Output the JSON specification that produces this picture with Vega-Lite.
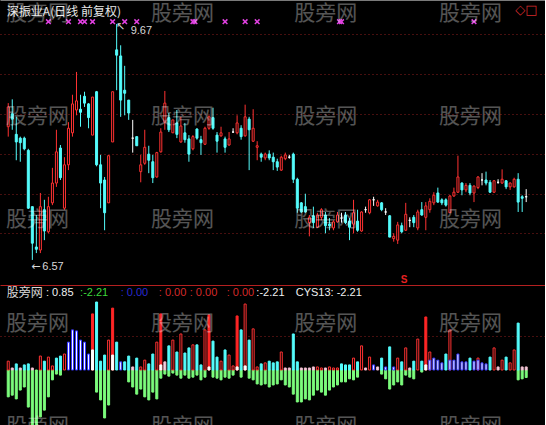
{
  "$schema": "https://vega.github.io/schema/vega-lite/v6.json",
  "background": "#000000",
  "padding": 0,
  "spacing": 0,
  "config": {
    "view": {"stroke": null},
    "axis": {"labels": false, "ticks": false, "grid": false, "domainColor": "#b42020", "minExtent": 0, "maxExtent": 0, "labelPadding": 0, "titlePadding": 0}
  },
  "datasets": {
    "k": [
      {"i":0,"o":8.32,"h":8.63,"l":8.19,"c":8.58},{"i":1,"o":8.49,"h":8.68,"l":8.28,"c":8.42},{"i":2,"o":8.22,"h":8.45,"l":7.88,"c":8.12},{"i":3,"o":8.17,"h":8.19,"l":7.86,"c":8.11},{"i":4,"o":8.17,"h":8.19,"l":8.01,"c":8.03},
      {"i":5,"o":8.01,"h":8.03,"l":7.24,"c":7.25},{"i":6,"o":7.27,"h":7.27,"l":6.57,"c":6.79},{"i":7,"o":6.74,"h":7.16,"l":6.66,"c":6.71},{"i":8,"o":6.70,"h":7.45,"l":6.66,"c":7.27},{"i":9,"o":7.23,"h":7.36,"l":6.83,"c":6.95},
      {"i":10,"o":6.94,"h":7.40,"l":6.92,"c":7.27},{"i":11,"o":7.32,"h":7.78,"l":7.29,"c":7.58},{"i":12,"o":7.58,"h":8.28,"l":7.53,"c":7.99},{"i":13,"o":8.04,"h":8.08,"l":7.62,"c":7.65},{"i":14,"o":7.25,"h":7.92,"l":7.23,"c":7.82},
      {"i":15,"o":7.82,"h":8.38,"l":7.75,"c":8.30},{"i":16,"o":8.24,"h":8.74,"l":8.19,"c":8.62},{"i":17,"o":8.54,"h":9.04,"l":8.47,"c":8.66},{"i":18,"o":8.55,"h":8.74,"l":8.32,"c":8.51},{"i":19,"o":8.72,"h":8.78,"l":8.58,"c":8.63},
      {"i":20,"o":8.62,"h":8.63,"l":8.30,"c":8.44},{"i":21,"o":8.21,"h":8.71,"l":8.21,"c":8.71},{"i":22,"o":8.78,"h":8.79,"l":7.80,"c":7.82},{"i":23,"o":7.82,"h":7.95,"l":7.25,"c":7.58},{"i":24,"o":7.62,"h":7.66,"l":6.96,"c":7.19},
      {"i":25,"o":7.32,"h":7.94,"l":7.32,"c":7.94},{"i":26,"o":8.12,"h":8.78,"l":8.12,"c":8.78},{"i":27,"o":9.33,"h":9.67,"l":8.80,"c":9.26},{"i":28,"o":9.25,"h":9.39,"l":8.45,"c":8.67},{"i":29,"o":8.80,"h":9.12,"l":8.47,"c":8.76},
      {"i":30,"o":8.67,"h":8.67,"l":8.41,"c":8.50},{"i":31,"o":8.17,"h":8.41,"l":7.98,"c":8.17},{"i":32,"o":8.19,"h":8.19,"l":8.07,"c":8.07},{"i":33,"o":7.73,"h":7.95,"l":7.59,"c":7.82},{"i":34,"o":7.84,"h":8.28,"l":7.82,"c":8.05},
      {"i":35,"o":7.96,"h":8.07,"l":7.71,"c":7.88},{"i":36,"o":7.86,"h":7.95,"l":7.58,"c":7.65},{"i":37,"o":7.66,"h":7.99,"l":7.65,"c":7.98},{"i":38,"o":7.99,"h":8.30,"l":7.98,"c":8.25},{"i":39,"o":8.38,"h":8.79,"l":8.28,"c":8.63},
      {"i":40,"o":8.44,"h":8.50,"l":8.25,"c":8.28},{"i":41,"o":8.24,"h":8.41,"l":8.24,"c":8.41},{"i":42,"o":8.37,"h":8.54,"l":8.17,"c":8.22},{"i":43,"o":8.12,"h":8.45,"l":8.11,"c":8.33},{"i":44,"o":8.24,"h":8.37,"l":8.11,"c":8.15},
      {"i":45,"o":8.16,"h":8.21,"l":7.86,"c":7.96},{"i":46,"o":8.03,"h":8.21,"l":8.01,"c":8.19},{"i":47,"o":8.29,"h":8.30,"l":8.15,"c":8.17},{"i":48,"o":8.15,"h":8.20,"l":7.95,"c":8.11},{"i":49,"o":8.09,"h":8.32,"l":8.08,"c":8.30},
      {"i":50,"o":8.30,"h":8.47,"l":8.28,"c":8.45},{"i":51,"o":8.44,"h":8.57,"l":8.28,"c":8.30},{"i":52,"o":8.21,"h":8.25,"l":7.98,"c":8.13},{"i":53,"o":8.20,"h":8.32,"l":8.19,"c":8.24},{"i":54,"o":8.16,"h":8.19,"l":7.98,"c":8.05},
      {"i":55,"o":8.08,"h":8.25,"l":8.07,"c":8.16},{"i":56,"o":8.25,"h":8.30,"l":8.24,"c":8.25},{"i":57,"o":8.24,"h":8.47,"l":8.22,"c":8.37},{"i":58,"o":8.30,"h":8.34,"l":8.15,"c":8.19},{"i":59,"o":8.20,"h":8.61,"l":8.19,"c":8.45},
      {"i":60,"o":8.42,"h":8.45,"l":7.75,"c":8.28},{"i":61,"o":8.13,"h":8.55,"l":8.12,"c":8.30},{"i":62,"o":8.05,"h":8.13,"l":7.88,"c":8.07},{"i":63,"o":7.96,"h":7.98,"l":7.86,"c":7.92},{"i":64,"o":7.91,"h":7.98,"l":7.88,"c":7.96},
      {"i":65,"o":7.96,"h":8.01,"l":7.88,"c":7.91},{"i":66,"o":7.92,"h":7.98,"l":7.75,"c":7.86},{"i":67,"o":7.86,"h":7.90,"l":7.74,"c":7.79},{"i":68,"o":7.75,"h":7.94,"l":7.74,"c":7.92},{"i":69,"o":7.90,"h":7.98,"l":7.88,"c":7.95},
      {"i":70,"o":7.92,"h":7.95,"l":7.90,"c":7.92},{"i":71,"o":7.96,"h":7.98,"l":7.58,"c":7.63},{"i":72,"o":7.63,"h":7.65,"l":7.19,"c":7.25},{"i":73,"o":7.32,"h":7.33,"l":7.19,"c":7.20},{"i":74,"o":7.27,"h":7.44,"l":7.19,"c":7.20},
      {"i":75,"o":7.06,"h":7.16,"l":6.88,"c":7.13},{"i":76,"o":7.15,"h":7.27,"l":6.99,"c":7.06},{"i":77,"o":7.00,"h":7.19,"l":6.99,"c":7.16},{"i":78,"o":7.13,"h":7.25,"l":7.09,"c":7.23},{"i":79,"o":7.16,"h":7.20,"l":6.92,"c":7.02},
      {"i":80,"o":7.04,"h":7.12,"l":6.96,"c":7.02},{"i":81,"o":6.99,"h":7.09,"l":6.96,"c":7.07},{"i":82,"o":7.07,"h":7.20,"l":7.06,"c":7.16},{"i":83,"o":7.12,"h":7.19,"l":7.06,"c":7.12},{"i":84,"o":7.16,"h":7.20,"l":7.04,"c":7.06},
      {"i":85,"o":7.08,"h":7.12,"l":6.83,"c":7.00},{"i":86,"o":7.04,"h":7.36,"l":6.92,"c":7.19},{"i":87,"o":7.08,"h":7.23,"l":6.94,"c":6.96},{"i":88,"o":6.95,"h":7.21,"l":6.94,"c":7.20},{"i":89,"o":7.23,"h":7.27,"l":7.19,"c":7.23},
      {"i":90,"o":7.19,"h":7.37,"l":7.17,"c":7.36},{"i":91,"o":7.36,"h":7.40,"l":7.28,"c":7.36},{"i":92,"o":7.28,"h":7.36,"l":7.27,"c":7.33},{"i":93,"o":7.32,"h":7.33,"l":7.21,"c":7.23},{"i":94,"o":7.20,"h":7.25,"l":7.16,"c":7.20},
      {"i":95,"o":7.15,"h":7.16,"l":6.87,"c":6.87},{"i":96,"o":6.85,"h":6.92,"l":6.81,"c":6.88},{"i":97,"o":6.83,"h":7.07,"l":6.78,"c":7.03},{"i":98,"o":7.02,"h":7.06,"l":6.92,"c":6.94},{"i":99,"o":6.96,"h":7.32,"l":6.95,"c":7.17},
      {"i":100,"o":7.09,"h":7.13,"l":7.00,"c":7.09},{"i":101,"o":7.13,"h":7.16,"l":7.00,"c":7.06},{"i":102,"o":6.99,"h":7.23,"l":6.96,"c":7.20},{"i":103,"o":7.23,"h":7.33,"l":7.15,"c":7.16},{"i":104,"o":7.13,"h":7.33,"l":6.96,"c":7.28},
      {"i":105,"o":7.23,"h":7.38,"l":7.19,"c":7.34},{"i":106,"o":7.32,"h":7.46,"l":7.29,"c":7.42},{"i":107,"o":7.45,"h":7.52,"l":7.32,"c":7.33},{"i":108,"o":7.36,"h":7.38,"l":7.29,"c":7.32},{"i":109,"o":7.36,"h":7.38,"l":7.27,"c":7.29},
      {"i":110,"o":7.19,"h":7.42,"l":7.19,"c":7.41},{"i":111,"o":7.41,"h":7.52,"l":7.40,"c":7.46},{"i":112,"o":7.46,"h":7.94,"l":7.45,"c":7.66},{"i":113,"o":7.58,"h":7.59,"l":7.42,"c":7.49},{"i":114,"o":7.49,"h":7.58,"l":7.46,"c":7.55},
      {"i":115,"o":7.55,"h":7.58,"l":7.42,"c":7.45},{"i":116,"o":7.45,"h":7.55,"l":7.33,"c":7.54},{"i":117,"o":7.52,"h":7.67,"l":7.50,"c":7.66},{"i":118,"o":7.62,"h":7.71,"l":7.55,"c":7.62},{"i":119,"o":7.62,"h":7.73,"l":7.55,"c":7.58},
      {"i":120,"o":7.59,"h":7.62,"l":7.45,"c":7.46},{"i":121,"o":7.46,"h":7.62,"l":7.45,"c":7.61},{"i":122,"o":7.59,"h":7.63,"l":7.57,"c":7.59},{"i":123,"o":7.58,"h":7.76,"l":7.57,"c":7.63},{"i":124,"o":7.61,"h":7.62,"l":7.50,"c":7.53},
      {"i":125,"o":7.53,"h":7.59,"l":7.49,"c":7.58},{"i":126,"o":7.53,"h":7.65,"l":7.52,"c":7.63},{"i":127,"o":7.63,"h":7.71,"l":7.20,"c":7.33},{"i":128,"o":7.40,"h":7.42,"l":7.20,"c":7.38},{"i":129,"o":7.40,"h":7.50,"l":7.33,"c":7.40}
    ],
    "ind": [
      {"i":0,"v":-7.9,"k":"down"},{"i":0,"v":2.6,"k":"up"},
      {"i":1,"v":-7.4,"k":"down"},{"i":1,"v":0.6,"k":"flat"},
      {"i":2,"v":-8.5,"k":"down"},{"i":2,"v":1.8,"k":"rise"},
      {"i":3,"v":-5.9,"k":"down"},{"i":3,"v":0.6,"k":"flat"},
      {"i":4,"v":-5.0,"k":"down"},{"i":4,"v":1.5,"k":"rise"},
      {"i":5,"v":-10.9,"k":"down"},{"i":5,"v":1.8,"k":"rise"},
      {"i":6,"v":-17.6,"k":"down"},{"i":6,"v":0.6,"k":"flat"},
      {"i":7,"v":-16.5,"k":"down"},
      {"i":8,"v":-13.8,"k":"down"},{"i":8,"v":4.1,"k":"up"},
      {"i":9,"v":-11.8,"k":"down"},{"i":9,"v":2.6,"k":"rise"},
      {"i":10,"v":-7.9,"k":"down"},{"i":10,"v":3.8,"k":"up"},
      {"i":11,"v":-2.9,"k":"down"},{"i":11,"v":1.2,"k":"up"},
      {"i":12,"v":-1.2,"k":"down"},{"i":12,"v":3.5,"k":"rise"},
      {"i":13,"v":-1.5,"k":"down"},{"i":13,"v":4.1,"k":"rise"},
      {"i":14,"v":4.7,"k":"up"},
      {"i":15,"v":8.2,"k":"base"},
      {"i":16,"v":11.8,"k":"base"},
      {"i":17,"v":11.5,"k":"base"},
      {"i":18,"v":8.8,"k":"base"},
      {"i":19,"v":8.2,"k":"base"},
      {"i":20,"v":4.7,"k":"base"},
      {"i":21,"v":16.5,"k":"strong"},{"i":21,"v":5.9,"k":"core"},
      {"i":22,"v":-6.5,"k":"down"},{"i":22,"v":20.0,"k":"rise"},
      {"i":23,"v":-8.8,"k":"down"},{"i":23,"v":2.6,"k":"rise"},
      {"i":24,"v":-14.1,"k":"down"},{"i":24,"v":4.4,"k":"rise"},
      {"i":25,"v":-10.3,"k":"down"},{"i":25,"v":8.8,"k":"up"},
      {"i":26,"v":18.2,"k":"strong"},{"i":26,"v":4.4,"k":"core"},
      {"i":27,"v":8.2,"k":"rise"},
      {"i":28,"v":2.4,"k":"base"},
      {"i":29,"v":2.4,"k":"rise"},
      {"i":30,"v":-3.5,"k":"down"},{"i":30,"v":4.1,"k":"rise"},
      {"i":31,"v":-5.0,"k":"down"},{"i":31,"v":0.9,"k":"flat"},
      {"i":32,"v":-7.1,"k":"down"},{"i":32,"v":3.5,"k":"rise"},
      {"i":33,"v":-5.6,"k":"down"},{"i":33,"v":0.9,"k":"up"},
      {"i":34,"v":-7.9,"k":"down"},{"i":34,"v":2.9,"k":"up"},
      {"i":35,"v":-8.8,"k":"down"},{"i":35,"v":1.8,"k":"rise"},
      {"i":36,"v":-6.5,"k":"down"},{"i":36,"v":4.7,"k":"rise"},
      {"i":37,"v":-8.5,"k":"down"},{"i":37,"v":8.2,"k":"up"},
      {"i":38,"v":-2.4,"k":"down"},{"i":38,"v":16.5,"k":"strong"},{"i":38,"v":1.5,"k":"core"},
      {"i":39,"v":-1.2,"k":"down"},{"i":39,"v":2.4,"k":"flat"},
      {"i":40,"v":-1.8,"k":"down"},{"i":40,"v":7.1,"k":"rise"},
      {"i":41,"v":-0.9,"k":"down"},{"i":41,"v":8.8,"k":"up"},
      {"i":42,"v":-1.5,"k":"down"},{"i":42,"v":5.3,"k":"rise"},
      {"i":43,"v":-2.4,"k":"down"},{"i":43,"v":10.6,"k":"up"},
      {"i":44,"v":-1.5,"k":"down"},{"i":44,"v":5.0,"k":"rise"},
      {"i":45,"v":-2.4,"k":"down"},{"i":45,"v":6.5,"k":"rise"},
      {"i":46,"v":-2.1,"k":"down"},{"i":46,"v":7.4,"k":"up"},
      {"i":47,"v":-1.5,"k":"down"},{"i":47,"v":7.4,"k":"rise"},
      {"i":48,"v":-2.9,"k":"down"},{"i":48,"v":1.5,"k":"rise"},
      {"i":49,"v":-2.1,"k":"down"},{"i":49,"v":11.8,"k":"up"},
      {"i":50,"v":16.2,"k":"strong"},{"i":50,"v":0.9,"k":"core"},
      {"i":51,"v":-2.1,"k":"down"},{"i":51,"v":8.5,"k":"rise"},
      {"i":52,"v":-2.4,"k":"down"},{"i":52,"v":3.8,"k":"rise"},
      {"i":53,"v":-2.9,"k":"down"},{"i":53,"v":2.6,"k":"up"},
      {"i":54,"v":-2.1,"k":"down"},{"i":54,"v":5.9,"k":"rise"},
      {"i":55,"v":-2.4,"k":"down"},{"i":55,"v":4.4,"k":"up"},
      {"i":56,"v":-1.5,"k":"down"},{"i":56,"v":1.2,"k":"up"},
      {"i":57,"v":15.9,"k":"strong"},{"i":57,"v":0.9,"k":"core"},
      {"i":58,"v":-2.1,"k":"down"},{"i":58,"v":11.8,"k":"rise"},
      {"i":59,"v":19.4,"k":"up"},{"i":59,"v":1.2,"k":"core"},
      {"i":60,"v":-2.4,"k":"down"},{"i":60,"v":8.8,"k":"rise"},
      {"i":61,"v":-2.9,"k":"down"},{"i":61,"v":12.1,"k":"up"},
      {"i":62,"v":-4.1,"k":"down"},{"i":62,"v":0.9,"k":"up"},
      {"i":63,"v":-4.4,"k":"down"},{"i":63,"v":1.8,"k":"rise"},
      {"i":64,"v":-4.1,"k":"down"},{"i":64,"v":2.1,"k":"up"},
      {"i":65,"v":-5.0,"k":"down"},{"i":65,"v":2.6,"k":"rise"},
      {"i":66,"v":-4.4,"k":"down"},{"i":66,"v":2.1,"k":"rise"},
      {"i":67,"v":-4.1,"k":"down"},{"i":67,"v":2.4,"k":"rise"},
      {"i":68,"v":-2.9,"k":"down"},{"i":68,"v":5.3,"k":"up"},
      {"i":69,"v":-4.4,"k":"down"},{"i":69,"v":0.6,"k":"flat"},
      {"i":70,"v":-5.0,"k":"down"},{"i":70,"v":0.6,"k":"flat"},
      {"i":71,"v":-7.1,"k":"down"},{"i":71,"v":10.6,"k":"rise"},
      {"i":72,"v":-9.4,"k":"down"},{"i":72,"v":2.4,"k":"rise"},
      {"i":73,"v":-9.4,"k":"down"},{"i":73,"v":0.6,"k":"flat"},
      {"i":74,"v":-8.5,"k":"down"},{"i":74,"v":0.6,"k":"flat"},
      {"i":75,"v":-8.8,"k":"down"},{"i":75,"v":0.6,"k":"flat"},
      {"i":76,"v":-7.4,"k":"down"},{"i":76,"v":0.9,"k":"flat"},
      {"i":77,"v":-5.9,"k":"down"},{"i":77,"v":0.9,"k":"up"},
      {"i":78,"v":-6.5,"k":"down"},{"i":78,"v":0.6,"k":"up"},
      {"i":79,"v":-7.4,"k":"down"},{"i":79,"v":0.6,"k":"flat"},
      {"i":80,"v":-5.9,"k":"down"},{"i":80,"v":0.9,"k":"up"},
      {"i":81,"v":-5.0,"k":"down"},{"i":81,"v":0.6,"k":"up"},
      {"i":82,"v":-4.4,"k":"down"},{"i":82,"v":0.6,"k":"up"},
      {"i":83,"v":-3.5,"k":"down"},{"i":83,"v":1.8,"k":"rise"},
      {"i":84,"v":-3.5,"k":"down"},{"i":84,"v":1.5,"k":"rise"},
      {"i":85,"v":-2.6,"k":"down"},{"i":85,"v":1.5,"k":"rise"},
      {"i":86,"v":-2.9,"k":"down"},{"i":86,"v":3.5,"k":"up"},
      {"i":87,"v":-2.1,"k":"down"},{"i":87,"v":2.4,"k":"rise"},
      {"i":88,"v":7.1,"k":"up"},
      {"i":89,"v":0.6,"k":"flat"},
      {"i":90,"v":3.8,"k":"up"},
      {"i":91,"v":1.5,"k":"base"},
      {"i":92,"v":0.9,"k":"flat"},
      {"i":93,"v":-1.2,"k":"down"},{"i":93,"v":3.5,"k":"rise"},
      {"i":94,"v":-2.6,"k":"down"},{"i":94,"v":0.9,"k":"base"},
      {"i":95,"v":-5.6,"k":"down"},{"i":95,"v":6.8,"k":"rise"},
      {"i":96,"v":-4.4,"k":"down"},{"i":96,"v":0.9,"k":"base"},
      {"i":97,"v":-3.5,"k":"down"},{"i":97,"v":3.5,"k":"up"},
      {"i":98,"v":-4.4,"k":"down"},{"i":98,"v":2.4,"k":"rise"},
      {"i":99,"v":-1.5,"k":"down"},{"i":99,"v":6.5,"k":"up"},
      {"i":100,"v":-2.1,"k":"down"},{"i":100,"v":0.6,"k":"flat"},
      {"i":101,"v":-2.6,"k":"down"},{"i":101,"v":2.6,"k":"rise"},
      {"i":102,"v":9.1,"k":"up"},
      {"i":103,"v":-0.6,"k":"down"},{"i":103,"v":2.6,"k":"rise"},
      {"i":104,"v":15.6,"k":"strong"},{"i":104,"v":1.5,"k":"core"},
      {"i":105,"v":5.3,"k":"up"},{"i":105,"v":2.9,"k":"base"},
      {"i":106,"v":3.5,"k":"base"},
      {"i":107,"v":2.9,"k":"base"},
      {"i":108,"v":2.1,"k":"base"},
      {"i":109,"v":4.7,"k":"rise"},
      {"i":110,"v":11.8,"k":"up"},{"i":110,"v":2.9,"k":"base"},
      {"i":111,"v":2.9,"k":"base"},
      {"i":112,"v":4.7,"k":"base"},
      {"i":113,"v":2.4,"k":"base"},
      {"i":114,"v":2.4,"k":"base"},
      {"i":115,"v":3.5,"k":"rise"},
      {"i":116,"v":2.6,"k":"base"},
      {"i":117,"v":3.5,"k":"up"},{"i":117,"v":2.9,"k":"base"},
      {"i":118,"v":2.1,"k":"base"},
      {"i":119,"v":1.8,"k":"base"},
      {"i":120,"v":3.8,"k":"rise"},
      {"i":121,"v":6.5,"k":"up"},
      {"i":122,"v":0.9,"k":"flat"},
      {"i":123,"v":2.9,"k":"up"},
      {"i":124,"v":3.8,"k":"rise"},
      {"i":125,"v":2.1,"k":"up"},
      {"i":126,"v":5.9,"k":"up"},
      {"i":127,"v":-2.9,"k":"down"},{"i":127,"v":13.8,"k":"rise"},
      {"i":128,"v":-2.6,"k":"down"},{"i":128,"v":0.9,"k":"flat"},
      {"i":129,"v":-2.21,"k":"down"},{"i":129,"v":0.9,"k":"flat"}
    ],
    "sig": [
      {"i":10},{"i":15},{"i":18},{"i":19},{"i":21},{"i":26},{"i":29},{"i":32},
      {"i":46},{"i":46.5},{"i":54},{"i":59},{"i":62},{"i":82.5},{"i":83},{"i":116}
    ],
    "wmTop": [
      {"i":7.3,"p":9.80},{"i":43.4,"p":9.80},{"i":79.1,"p":9.80},{"i":115.1,"p":9.80},
      {"i":7.3,"p":8.45},{"i":43.4,"p":8.45},{"i":79.1,"p":8.45},{"i":115.1,"p":8.45},
      {"i":7.3,"p":7.09},{"i":43.4,"p":7.09},{"i":79.1,"p":7.09},{"i":115.1,"p":7.09}
    ],
    "wmBottom": [
      {"i":7.3,"v":13.5},{"i":43.4,"v":13.5},{"i":79.1,"v":13.5},{"i":115.1,"v":13.5},
      {"i":7.3,"v":-16.8},{"i":43.4,"v":-16.8},{"i":79.1,"v":-16.8},{"i":115.1,"v":-16.8}
    ]
  },
  "vconcat": [
    {
      "width": 545,
      "height": 283,
      "layer": [
        {
          "data": {"name": "k"},
          "mark": {"type": "rule", "strokeWidth": 1},
          "encoding": {
            "x": {"field": "i", "type": "quantitative", "title": null,
                  "scale": {"domain": [-0.807, 132.44], "nice": false, "zero": false},
                  "axis": {"orient": "top", "domainColor": "#7a7a7a"}},
            "y": {"field": "l", "type": "quantitative", "title": null,
                  "scale": {"domain": [6.267, 9.985], "nice": false, "zero": false},
                  "axis": {"orient": "right", "grid": true, "gridColor": "#8e1e1e", "gridDash": [1, 3],
                           "values": [9.538, 9.013, 8.487, 7.961, 7.442, 6.924]}},
            "y2": {"field": "h"},
            "color": {
              "condition": [
                {"test": "datum.c > datum.o", "value": "#ff3232"},
                {"test": "datum.c < datum.o", "value": "#54fcfc"}
              ],
              "value": "#ffffff"
            }
          }
        },
        {
          "data": {"name": "k"},
          "mark": {"type": "bar", "orient": "vertical", "size": 2, "strokeWidth": 1},
          "encoding": {
            "x": {"field": "i", "type": "quantitative", "title": null},
            "y": {"field": "o", "type": "quantitative", "title": null},
            "y2": {"field": "c"},
            "fill": {
              "condition": [
                {"test": "datum.c > datum.o", "value": "#000000"},
                {"test": "datum.c < datum.o", "value": "#54fcfc"}
              ],
              "value": "#ffffff"
            },
            "stroke": {
              "condition": [
                {"test": "datum.c > datum.o", "value": "#ff3232"},
                {"test": "datum.c < datum.o", "value": "#54fcfc"}
              ],
              "value": "#ffffff"
            }
          }
        },
        {
          "data": {"name": "sig"},
          "mark": {"type": "point", "shape": "M-1,-1L1,1M-1,1L1,-1", "size": 22, "filled": false,
                   "stroke": "#e040e0", "strokeWidth": 1.5, "opacity": 1},
          "encoding": {
            "x": {"field": "i", "type": "quantitative", "title": null},
            "y": {"datum": 9.70}
          }
        },
        {
          "data": {"values": [{"t": "深振业A(日线 前复权)", "i": -0.35, "p": 9.83}]},
          "mark": {"type": "text", "align": "left", "baseline": "middle", "font": "Noto Sans CJK SC", "fontSize": 12, "color": "#e8e8e8"},
          "encoding": {
            "x": {"field": "i", "type": "quantitative", "title": null},
            "y": {"field": "p", "type": "quantitative", "title": null},
            "text": {"field": "t"}
          }
        },
        {
          "data": {"values": [{"t": "◇□", "i": 126.3, "p": 9.855}]},
          "mark": {"type": "text", "align": "left", "baseline": "middle", "font": "DejaVu Sans", "fontSize": 13, "color": "#d42a2a"},
          "encoding": {
            "x": {"field": "i", "type": "quantitative", "title": null},
            "y": {"field": "p", "type": "quantitative", "title": null},
            "text": {"field": "t"}
          }
        },
        {
          "data": {"values": [{"t": "↖", "i": 27, "p": 9.67}]},
          "mark": {"type": "text", "align": "left", "baseline": "top", "dx": -1, "dy": -3, "font": "DejaVu Sans", "fontSize": 11, "color": "#d8d8d8"},
          "encoding": {
            "x": {"field": "i", "type": "quantitative", "title": null},
            "y": {"field": "p", "type": "quantitative", "title": null},
            "text": {"field": "t"}
          }
        },
        {
          "data": {"values": [{"t": "9.67", "i": 27, "p": 9.67}]},
          "mark": {"type": "text", "align": "left", "baseline": "top", "dx": 14, "dy": 1, "font": "Liberation Sans", "fontSize": 11, "color": "#d8d8d8"},
          "encoding": {
            "x": {"field": "i", "type": "quantitative", "title": null},
            "y": {"field": "p", "type": "quantitative", "title": null},
            "text": {"field": "t"}
          }
        },
        {
          "data": {"values": [{"t": "←", "i": 6, "p": 6.57}]},
          "mark": {"type": "text", "align": "left", "baseline": "middle", "dx": -1, "dy": 7, "font": "DejaVu Sans", "fontSize": 11, "color": "#d8d8d8"},
          "encoding": {
            "x": {"field": "i", "type": "quantitative", "title": null},
            "y": {"field": "p", "type": "quantitative", "title": null},
            "text": {"field": "t"}
          }
        },
        {
          "data": {"values": [{"t": "6.57", "i": 6, "p": 6.57}]},
          "mark": {"type": "text", "align": "left", "baseline": "middle", "dx": 10, "dy": 7, "font": "Liberation Sans", "fontSize": 11, "color": "#d8d8d8"},
          "encoding": {
            "x": {"field": "i", "type": "quantitative", "title": null},
            "y": {"field": "p", "type": "quantitative", "title": null},
            "text": {"field": "t"}
          }
        },
        {
          "data": {"values": [{"t": "S", "i": 98.6, "p": 6.31}]},
          "mark": {"type": "text", "align": "center", "baseline": "middle", "font": "Liberation Sans", "fontSize": 10, "fontWeight": "bold", "color": "#e82020"},
          "encoding": {
            "x": {"field": "i", "type": "quantitative", "title": null},
            "y": {"field": "p", "type": "quantitative", "title": null},
            "text": {"field": "t"}
          }
        },
        {
          "data": {"name": "wmTop"},
          "mark": {"type": "text", "text": "股旁网", "align": "center", "baseline": "middle", "font": "Noto Sans CJK SC", "fontSize": 21, "color": "#ffffff", "opacity": 0.33, "clip": true},
          "encoding": {
            "x": {"field": "i", "type": "quantitative", "title": null},
            "y": {"field": "p", "type": "quantitative", "title": null}
          }
        }
      ]
    },
    {
      "width": 545,
      "height": 142,
      "layer": [
        {
          "mark": {"type": "rule", "color": "#c8283c", "strokeWidth": 1},
          "encoding": {
            "x": {"datum": -0.807, "type": "quantitative", "title": null,
                  "scale": {"domain": [-0.807, 132.44], "nice": false, "zero": false},
                  "axis": {"orient": "top", "domainColor": "#b42020"}},
            "x2": {"datum": 132.44},
            "y": {"datum": 0, "type": "quantitative", "title": null,
                  "scale": {"domain": [-16.76, 25], "nice": false, "zero": false},
                  "axis": {"orient": "right", "grid": true, "gridColor": "#8e1e1e", "gridDash": [1, 3], "values": [10]}}
          }
        },
        {
          "data": {"name": "ind"},
          "mark": {"type": "bar", "orient": "vertical", "size": 2, "strokeWidth": 1, "clip": true},
          "encoding": {
            "x": {"field": "i", "type": "quantitative", "title": null},
            "y": {"field": "v", "type": "quantitative", "title": null},
            "y2": {"datum": 0},
            "fill": {"field": "k", "type": "nominal", "legend": null,
                     "scale": {"domain": ["down", "rise", "up", "strong", "flat", "base", "core"],
                               "range": ["#7cfc7c", "#54fcfc", "#000000", "#ff2626", "#f2dce6", "#ffffff", "#ffffff"]}},
            "stroke": {"field": "k", "type": "nominal", "legend": null,
                       "scale": {"domain": ["down", "rise", "up", "strong", "flat", "base", "core"],
                                 "range": ["#7cfc7c", "#54fcfc", "#ff3232", "#ff2626", "#f0b8cc", "#3434ff", "#ffffff"]}}
          }
        },
        {
          "data": {"values": [{"t": "股旁网", "i": -0.4, "v": 22.6}]},
          "mark": {"type": "text", "align": "left", "baseline": "middle", "font": "Noto Sans CJK SC", "fontSize": 12, "color": "#d8d8d8"},
          "encoding": {
            "x": {"field": "i", "type": "quantitative", "title": null},
            "y": {"field": "v", "type": "quantitative", "title": null},
            "text": {"field": "t"}
          }
        },
        {
          "data": {"values": [
            {"t": ": 0.85", "i": 9.4, "v": 22.6},
            {"t": ":-2.21", "i": 61.8, "v": 22.6},
            {"t": "CYS13: -2.21", "i": 71.6, "v": 22.6}
          ]},
          "mark": {"type": "text", "align": "left", "baseline": "middle", "font": "Liberation Sans", "fontSize": 11, "color": "#f0f0f0"},
          "encoding": {
            "x": {"field": "i", "type": "quantitative", "title": null},
            "y": {"field": "v", "type": "quantitative", "title": null},
            "text": {"field": "t"}
          }
        },
        {
          "data": {"values": [{"t": ":-2.21", "i": 17.9, "v": 22.6}]},
          "mark": {"type": "text", "align": "left", "baseline": "middle", "font": "Liberation Sans", "fontSize": 11, "color": "#3cd83c"},
          "encoding": {
            "x": {"field": "i", "type": "quantitative", "title": null},
            "y": {"field": "v", "type": "quantitative", "title": null},
            "text": {"field": "t"}
          }
        },
        {
          "data": {"values": [{"t": ": 0.00", "i": 28.0, "v": 22.6}]},
          "mark": {"type": "text", "align": "left", "baseline": "middle", "font": "Liberation Sans", "fontSize": 11, "color": "#2a2ad0"},
          "encoding": {
            "x": {"field": "i", "type": "quantitative", "title": null},
            "y": {"field": "v", "type": "quantitative", "title": null},
            "text": {"field": "t"}
          }
        },
        {
          "data": {"values": [
            {"t": ": 0.00", "i": 37.5, "v": 22.6},
            {"t": ": 0.00", "i": 45.2, "v": 22.6},
            {"t": ": 0.00", "i": 54.4, "v": 22.6}
          ]},
          "mark": {"type": "text", "align": "left", "baseline": "middle", "font": "Liberation Sans", "fontSize": 11, "color": "#d42a2a"},
          "encoding": {
            "x": {"field": "i", "type": "quantitative", "title": null},
            "y": {"field": "v", "type": "quantitative", "title": null},
            "text": {"field": "t"}
          }
        },
        {
          "data": {"name": "wmBottom"},
          "mark": {"type": "text", "text": "股旁网", "align": "center", "baseline": "middle", "font": "Noto Sans CJK SC", "fontSize": 21, "color": "#ffffff", "opacity": 0.33, "clip": true},
          "encoding": {
            "x": {"field": "i", "type": "quantitative", "title": null},
            "y": {"field": "v", "type": "quantitative", "title": null}
          }
        }
      ]
    }
  ]
}
